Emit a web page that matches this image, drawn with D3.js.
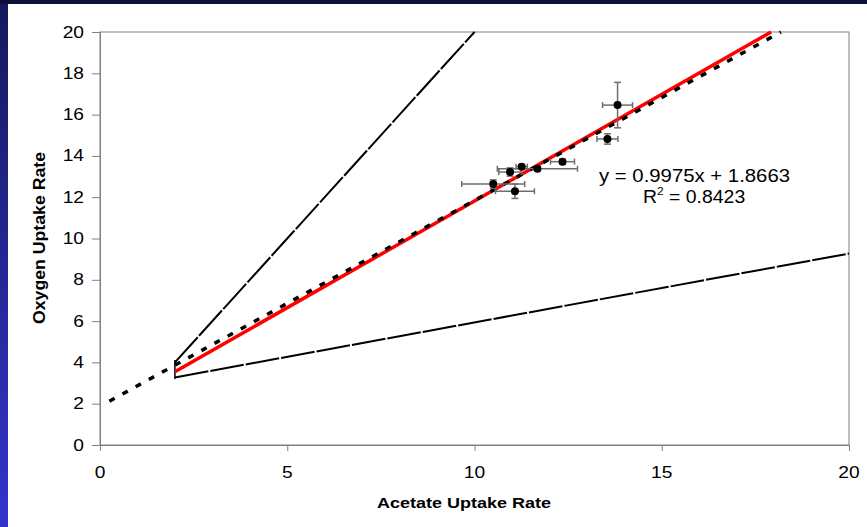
<!DOCTYPE html>
<html>
<head>
<meta charset="utf-8">
<script src="https://cdn.jsdelivr.net/npm/d3@7"></script>
<style>
    body { margin: 0; background: #ffffff; }
    svg { display: block; font-family: Arial, "Liberation Sans", sans-serif; }
</style>
</head>
<body>
<div id="chart"></div>
<script>
// Data points
const acetate = [10.50, 11.08, 10.95, 11.26, 11.68, 12.35, 13.55, 13.82];
const oxygen = [12.64, 12.29, 13.22, 13.48, 13.38, 13.72, 14.82, 16.46];
const acetateErr = [0.84, 0.52, 0.30, 0.15, 1.07, 0.32, 0.28, 0.40];
const oxygenErr = [0.20, 0.35, 0.20, 0.10, 0.10, 0.12, 0.25, 1.10];

// Reference lines, as [x, y] end points
const trendLine = [[0.25, 2.12], [18.18, 20]];
const fitLine = [[2, 3.55], [17.92, 20]];
const upperLine = [[2, 4], [10, 20]];
const lowerLine = [[2, 3.27], [20, 9.27]];
const startMark = [[2, 3.2], [2, 4.12]];

// Ticks and labels
const xTicks = [0, 5, 10, 15, 20];
const yTicks = [0, 2, 4, 6, 8, 10, 12, 14, 16, 18, 20];
const xTitle = "Acetate Uptake Rate";
const yTitle = "Oxygen Uptake Rate";
const equation = "y = 0.9975x + 1.8663";
const rSquared = "0.8423";

const width = 867, height = 527;
const plot = { left: 100, right: 849, top: 32, bottom: 445 };
const stretch = 1.2; // the original picture is a little wider than tall

const svg = d3.select("#chart").append("svg")
    .attr("width", width)
    .attr("height", height);

// Slide background (dark band on top, blue strip on the left)
const grad = svg.append("defs").append("linearGradient")
    .attr("id", "side").attr("x1", 0).attr("y1", 0).attr("x2", 0).attr("y2", 1);
grad.append("stop").attr("offset", "0%").attr("stop-color", "#141a5c");
grad.append("stop").attr("offset", "100%").attr("stop-color", "#3434cc");

svg.append("rect").attr("width", width).attr("height", height).attr("fill", "url(#side)");
svg.append("rect").attr("width", width).attr("height", 4).attr("fill", "#0c1038");
svg.append("rect").attr("x", 8).attr("y", 4).attr("width", width - 8).attr("height", height - 4).attr("fill", "#ffffff");

const x = d3.scaleLinear().domain([0, 20]).range([plot.left, plot.right]);
const y = d3.scaleLinear().domain([0, 20]).range([plot.bottom, plot.top]);

// Plot border
svg.append("rect")
    .attr("x", plot.left).attr("y", plot.top)
    .attr("width", plot.right - plot.left).attr("height", plot.bottom - plot.top)
    .attr("fill", "none").attr("stroke", "#808080");

// Axes (tick labels drawn by hand so they share the font of the other texts)
const xAxis = svg.append("g")
    .attr("transform", "translate(0," + plot.bottom + ")")
    .call(d3.axisBottom(x).tickValues(xTicks).tickSize(6).tickFormat(""));

const yAxis = svg.append("g")
    .attr("transform", "translate(" + plot.left + ",0)")
    .call(d3.axisLeft(y).tickValues(yTicks).tickSize(8).tickFormat(""));

[xAxis, yAxis].forEach(function (g) {
    g.select(".domain").attr("stroke", "#808080");
    g.selectAll(".tick line").attr("stroke", "#808080");
});

svg.append("g").selectAll("text")
    .data(xTicks)
    .enter()
    .append("text")
    .attr("transform", d => "translate(" + x(d) + ",478) scale(" + stretch + ",1)")
    .attr("text-anchor", "middle")
    .style("font-size", "16px")
    .text(d => d);

svg.append("g").selectAll("text")
    .data(yTicks)
    .enter()
    .append("text")
    .attr("transform", d => "translate(84," + (y(d) + 5.5) + ") scale(" + stretch + ",1)")
    .attr("text-anchor", "end")
    .style("font-size", "16px")
    .text(d => d);

const line = d3.line().x(d => x(d[0])).y(d => y(d[1]));

function drawLine(points, color, w, dash) {
    svg.append("path")
        .attr("d", line(points))
        .attr("fill", "none")
        .attr("stroke", color)
        .attr("stroke-width", w)
        .attr("stroke-dasharray", dash);
}

drawLine(upperLine, "#000", 2, "34,2");
drawLine(lowerLine, "#000", 2, "34,2");
drawLine(startMark, "#000", 1.5, null);
drawLine(fitLine, "#ff0000", 3.5, null);
drawLine(trendLine, "#000", 3.5, "6,9");

// Error bars
const pts = acetate.map((a, i) => ({ x: a, y: oxygen[i], ex: acetateErr[i], ey: oxygenErr[i] }));
const bars = svg.append("g").attr("stroke", "#6e6e6e").attr("stroke-width", 1.5);

pts.forEach(function (p) {
    const px = x(p.x), py = y(p.y);
    const x0 = x(p.x - p.ex), x1 = x(p.x + p.ex);
    const y0 = y(p.y - p.ey), y1 = y(p.y + p.ey);
    bars.append("line").attr("x1", x0).attr("x2", x1).attr("y1", py).attr("y2", py);
    bars.append("line").attr("x1", x0).attr("x2", x0).attr("y1", py - 3).attr("y2", py + 3);
    bars.append("line").attr("x1", x1).attr("x2", x1).attr("y1", py - 3).attr("y2", py + 3);
    bars.append("line").attr("x1", px).attr("x2", px).attr("y1", y0).attr("y2", y1);
    bars.append("line").attr("x1", px - 3.5).attr("x2", px + 3.5).attr("y1", y0).attr("y2", y0);
    bars.append("line").attr("x1", px - 3.5).attr("x2", px + 3.5).attr("y1", y1).attr("y2", y1);
});

svg.append("g").selectAll("circle")
    .data(pts)
    .enter()
    .append("circle")
    .attr("cx", d => x(d.x))
    .attr("cy", d => y(d.y))
    .attr("r", 4)
    .attr("fill", "#000");

// Trend line equation
svg.append("text")
    .attr("x", 599).attr("y", 182)
    .style("font-size", "18px")
    .attr("textLength", 191).attr("lengthAdjust", "spacingAndGlyphs")
    .text(equation);

const r2 = svg.append("text")
    .attr("transform", "translate(643,203) scale(1.08,1)")
    .style("font-size", "18px");
r2.append("tspan").text("R");
r2.append("tspan").attr("dy", -8).style("font-size", "11px").text("2");
r2.append("tspan").attr("dy", 8).text(" = " + rSquared);

// Axis titles
svg.append("text")
    .attr("transform", "translate(464,508) scale(" + stretch + ",1)")
    .attr("text-anchor", "middle")
    .style("font-size", "15px").style("font-weight", "bold")
    .text(xTitle);

svg.append("text")
    .attr("transform", "translate(45,238) rotate(-90)")
    .attr("text-anchor", "middle")
    .style("font-size", "17px").style("font-weight", "bold")
    .attr("textLength", 172).attr("lengthAdjust", "spacingAndGlyphs")
    .text(yTitle);
</script>
</body>
</html>
